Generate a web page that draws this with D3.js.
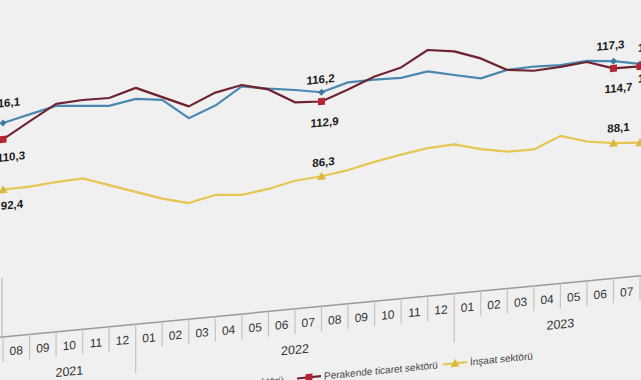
<!DOCTYPE html>
<html><head><meta charset="utf-8">
<script src="https://cdn.jsdelivr.net/npm/d3@7"></script>
<style>html,body{margin:0;padding:0;background:#f0f0f0;}svg{display:block;}</style>
</head><body>
<svg id="c" width="641" height="380"></svg>
<script>
// ---- data ----
const months = ["2021-08","2021-09","2021-10","2021-11","2021-12",
  "2022-01","2022-02","2022-03","2022-04","2022-05","2022-06","2022-07","2022-08","2022-09","2022-10","2022-11","2022-12",
  "2023-01","2023-02","2023-03","2023-04","2023-05","2023-06","2023-07","2023-08"];
const monthLabels = months.map(m => m.slice(5));
const years = ["2021","2022","2023"];
const hizmet    = [116.1,118.3,120.4,119.5,118.6,120.2,118.9,111.5,115.1,121.0,119.3,117.9,116.2,118.8,118.9,118.6,120.0,117.8,115.7,117.8,118.1,117.7,118.3,117.3,115.4];
const perakende = [110.3,115.8,121.1,121.6,121.4,124.1,119.9,115.7,119.7,121.5,119.0,113.5,112.9,116.3,120.0,122.3,127.6,126.2,122.8,117.8,116.6,117.1,117.9,114.7,114.5];
const insaat    = [92.4,92.6,93.3,93.7,90.4,87.1,83.8,81.3,83.3,82.4,83.6,85.6,86.3,87.6,89.6,91.3,92.7,93.1,90.5,88.7,88.6,92.5,89.6,88.1,87.4];
const seriesNames = ["Hizmet sektörü","Perakende ticaret sektörü","İnşaat sektörü"];
const highlighted = ["2021-08","2022-08","2023-07","2023-08"];

// ---- chart ----
const svg = d3.select("#c");
svg.append("rect").attr("width",641).attr("height",380).attr("fill","#f0f0f0");
const g = svg.append("g").attr("transform","skewY(-5.48)");

const x = d3.scalePoint().domain(months).range([3, 640]);
const step = x.step();
const y = d3.scaleLinear().domain([40,140]).range([337.2, 56.2]);
const fmt = v => d3.format(".1f")(v).replace(".", ",");

const series = [
  {name: seriesNames[0], values: hizmet,    color:"#4a88b0", mcolor:"#3c7aa3", marker:"diamond", labelPos:"above"},
  {name: seriesNames[1], values: perakende, color:"#6e2230", mcolor:"#b3262f", marker:"square",  labelPos:"below"},
  {name: seriesNames[2], values: insaat,    color:"#e6c653", mcolor:"#dcb93c", marker:"triangle",labelPos:"above"}
];

// x axis
const axisY = y(40);
g.append("line").attr("x1",0).attr("x2",641).attr("y1",axisY).attr("y2",axisY)
  .attr("stroke","#9a9a9a").attr("stroke-width",1.5);
g.append("line").attr("x1",x(months[0])-1).attr("x2",x(months[0])-1).attr("y1",y(61)).attr("y2",axisY)
  .attr("stroke","#b0b0b0").attr("stroke-width",1);
months.forEach((m,i) => {
  const isYear = m.endsWith("-01");
  g.append("line").attr("x1",x(m)).attr("x2",x(m)).attr("y1",axisY)
    .attr("y2", isYear ? axisY+49 : axisY+25)
    .attr("stroke","#c4c4c4").attr("stroke-width",1.2);
  g.append("text").attr("x", x(m)+step/2).attr("y", axisY+19)
    .attr("text-anchor","middle").attr("font-family","Liberation Sans, Arial, sans-serif")
    .attr("font-size",12).attr("fill","#333").text(monthLabels[i]);
});
years.forEach(yr => {
  const ms = months.filter(m => m.startsWith(yr));
  const x0 = x(ms[0]), x1 = x(ms[ms.length-1]) + step;
  g.append("text").attr("x",(x0+x1)/2).attr("y",axisY+45)
    .attr("text-anchor","middle").attr("font-family","Liberation Sans, Arial, sans-serif")
    .attr("font-size",12.5).attr("fill","#333").text(yr);
});

// lines
const line = d3.line().x((d,i)=>x(months[i])).y(d=>y(d));
function drawMarker(sel, type, cx, cy, color){
  if(type==="square") sel.append("rect").attr("x",cx-3.5).attr("y",cy-3.5).attr("width",7).attr("height",7).attr("fill",color);
  else if(type==="diamond") sel.append("path").attr("d",`M${cx},${cy-3.5}L${cx+3.5},${cy}L${cx},${cy+3.5}L${cx-3.5},${cy}Z`).attr("fill",color);
  else sel.append("path").attr("d",`M${cx},${cy-4.5}L${cx+4.5},${cy+3.5}L${cx-4.5},${cy+3.5}Z`).attr("fill",color);
}
series.forEach(s => {
  g.append("path").datum(s.values).attr("d",line).attr("fill","none")
    .attr("stroke",s.color).attr("stroke-width",2.2).attr("stroke-linejoin","round");
});
// label offsets per series / highlighted point (dx, dy of text baseline from point)
const labelOffsets = {
  [seriesNames[0]]: [[3,-16],[-1,-9],[-3,-12],[12,-12]],
  [seriesNames[1]]: [[8,22],[3,25],[5,24],[12,16]],
  [seriesNames[2]]: [[9,20],[2,-10],[5,-11],[12,-11]]
};
series.forEach(s => {
  highlighted.forEach((m,k) => {
    const i = months.indexOf(m);
    const cx = x(m), cy = y(s.values[i]);
    drawMarker(g, s.marker, cx, cy, s.mcolor);
    const o = labelOffsets[s.name][k];
    g.append("text").attr("x",cx+o[0]).attr("y",cy+o[1]).attr("text-anchor","middle")
      .attr("font-family","Liberation Sans, Arial, sans-serif").attr("font-size",11.5)
      .attr("font-weight","bold").attr("fill","#1a1a1a").text(fmt(s.values[i]));
  });
});

// legend
const legendX = [190, 297, 443];
const legendY = 407;
series.forEach((s,k) => {
  const lx = legendX[k];
  g.append("line").attr("x1",lx).attr("x2",lx+24).attr("y1",legendY).attr("y2",legendY)
    .attr("stroke",s.color).attr("stroke-width",2.2);
  drawMarker(g, s.marker, lx+12, legendY, s.mcolor);
  g.append("text").attr("x",lx+27).attr("y",legendY+3.5)
    .attr("font-family","Liberation Sans, Arial, sans-serif").attr("font-size",10)
    .attr("fill","#444").text(s.name);
});
</script>
</body></html>
